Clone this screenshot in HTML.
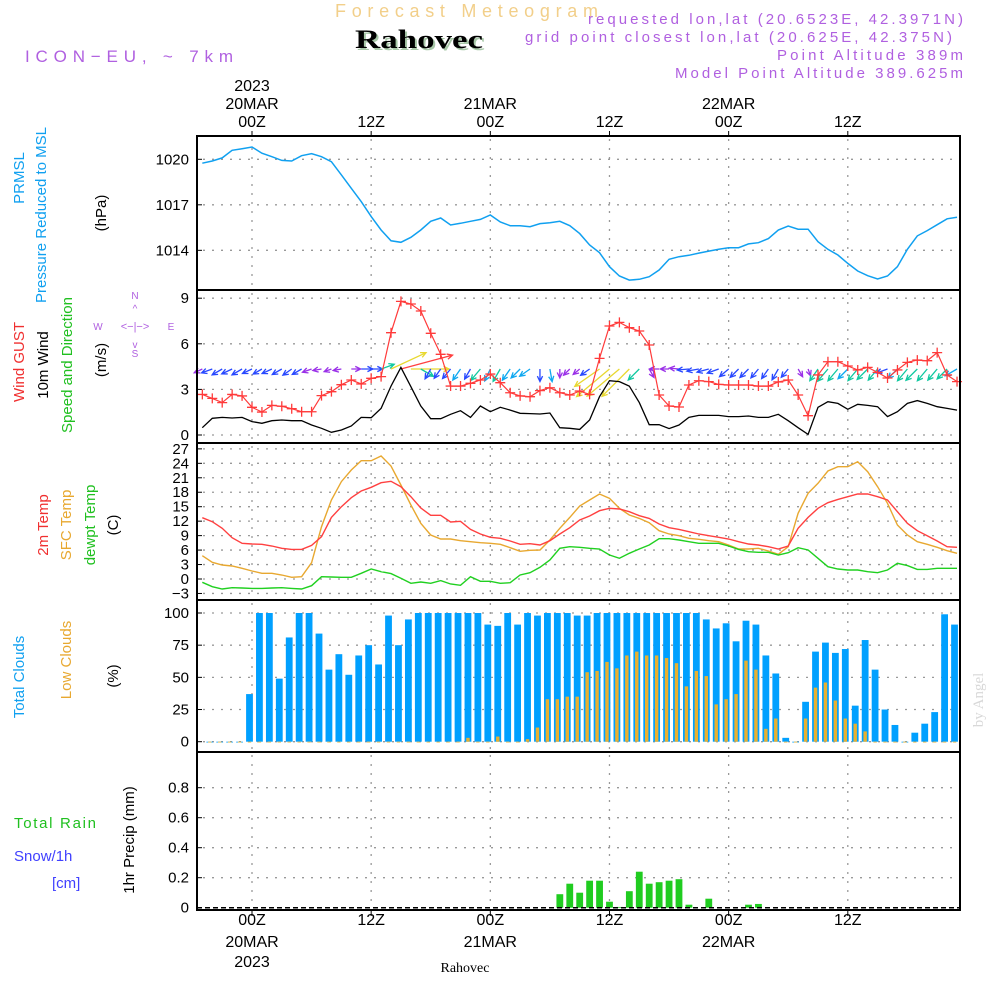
<!DOCTYPE html>
<html><head><meta charset="utf-8"><title>Meteogram Rahovec</title>
<style>
html,body{margin:0;padding:0;background:#fff;}
svg{display:block;font-family:"Liberation Sans",sans-serif;}
</style></head>
<body>
<svg id="chart" width="1000" height="1000" viewBox="0 0 1000 1000" xmlns="http://www.w3.org/2000/svg">
<rect width="1000" height="1000" fill="#fff"/>
<g id="header">
<text x="335" y="17" font-size="18" fill="#f2cf8a" textLength="263" lengthAdjust="spacing">Forecast Meteogram</text>
<text x="357" y="50" font-size="26" font-weight="bold" font-family="Liberation Serif,serif" fill="#a8c8a8" textLength="128" lengthAdjust="spacingAndGlyphs">Rahovec</text>
<text x="355" y="48" font-size="26" font-weight="bold" font-family="Liberation Serif,serif" fill="#000" textLength="128" lengthAdjust="spacingAndGlyphs">Rahovec</text>
<text x="25" y="62" font-size="17" fill="#b060e0" textLength="208" lengthAdjust="spacing">ICON−EU, ~ 7km</text>
<text x="963" y="24" font-size="15" fill="#b060e0" text-anchor="end" textLength="375" lengthAdjust="spacing">requested lon,lat (20.6523E, 42.3971N)</text>
<text x="952" y="42" font-size="15" fill="#b060e0" text-anchor="end" textLength="427" lengthAdjust="spacing">grid point closest lon,lat (20.625E, 42.375N)</text>
<text x="963" y="60" font-size="15" fill="#b060e0" text-anchor="end" textLength="186" lengthAdjust="spacing">Point Altitude 389m</text>
<text x="963" y="78" font-size="15" fill="#b060e0" text-anchor="end" textLength="288" lengthAdjust="spacing">Model Point Altitude 389.625m</text>
</g>
<g id="labels" font-size="15">
<text transform="translate(24,178) rotate(-90)" text-anchor="middle" fill="#10a0f0">PRMSL</text>
<text transform="translate(46,215) rotate(-90)" text-anchor="middle" fill="#10a0f0">Pressure Reduced to MSL</text>
<text transform="translate(106,213) rotate(-90)" text-anchor="middle" fill="#000">(hPa)</text>
<text transform="translate(24,362) rotate(-90)" text-anchor="middle" fill="#f03030">Wind GUST</text>
<text transform="translate(48,365) rotate(-90)" text-anchor="middle" fill="#000">10m Wind</text>
<text transform="translate(72,365) rotate(-90)" text-anchor="middle" fill="#20c020">Speed and Direction</text>
<text transform="translate(106,360) rotate(-90)" text-anchor="middle" fill="#000">(m/s)</text>
<g fill="#b060e0" font-size="10" text-anchor="middle">
<text x="135" y="299">N</text><text x="135" y="357">S</text><text x="98" y="330">W</text><text x="171" y="330">E</text>
<text x="135" y="330" font-size="11">&lt;−|−&gt;</text><text x="135" y="312" font-size="10">^</text><text x="135" y="348" font-size="10">v</text>
</g>
<text transform="translate(48,525) rotate(-90)" text-anchor="middle" fill="#f03030">2m Temp</text>
<text transform="translate(71,525) rotate(-90)" text-anchor="middle" fill="#e8a830">SFC Temp</text>
<text transform="translate(95,525) rotate(-90)" text-anchor="middle" fill="#20c020">dewpt Temp</text>
<text transform="translate(118,525) rotate(-90)" text-anchor="middle" fill="#000">(C)</text>
<text transform="translate(24,677) rotate(-90)" text-anchor="middle" fill="#10a0f0">Total Clouds</text>
<text transform="translate(71,660) rotate(-90)" text-anchor="middle" fill="#e8a830">Low Clouds</text>
<text transform="translate(118,676) rotate(-90)" text-anchor="middle" fill="#000">(%)</text>
<text x="14" y="828" fill="#20c020" textLength="82" lengthAdjust="spacing">Total  Rain</text>
<text x="14" y="861" fill="#4040ff">Snow/1h</text>
<text x="52" y="888" fill="#4040ff">[cm]</text>
<text transform="translate(134,840) rotate(-90)" text-anchor="middle" fill="#000">1hr Precip (mm)</text>
<text transform="translate(983,700) rotate(-90)" text-anchor="middle" fill="#d8d8d8" font-family="Liberation Serif,serif" font-size="15">by Angel</text>
<text x="465" y="972" text-anchor="middle" font-family="Liberation Serif,serif" font-size="14" fill="#000">Rahovec</text>
</g>
<g id="plot"></g>
</svg>
<script>
// ---- data (hourly, t = -5 .. 71 hours from 20MAR 00Z) ----
const pressure = [1019.74,1019.89,1020.09,1020.59,1020.70,1020.81,1020.40,1020.17,1019.93,1019.89,1020.24,1020.37,1020.17,1019.84,1018.97,1018.09,1017.21,1016.22,1015.34,1014.63,1014.53,1014.86,1015.34,1015.91,1016.13,1015.67,1015.78,1015.91,1016.04,1016.33,1015.87,1015.62,1015.62,1015.56,1015.76,1015.82,1015.91,1015.62,1015.10,1014.35,
1013.84,1012.92,1012.31,1012.04,1012.09,1012.26,1012.70,1013.41,1013.58,1013.67,1013.82,1013.95,1014.07,1014.17,1014.17,1014.42,1014.50,1014.77,1015.34,1015.60,1015.39,1015.39,1014.57,1014.07,1013.69,1013.14,1012.64,1012.33,1012.11,1012.31,1012.92,1014.07,1014.95,1015.30,1015.69,1016.08,1016.18];
const windSpeed = [0.48,1.10,1.16,1.12,1.16,0.88,0.77,0.94,0.99,0.94,0.94,0.66,0.44,0.18,0.33,0.59,1.16,1.14,1.75,3.22,4.45,3.18,1.91,1.07,1.07,1.36,1.60,1.16,1.91,1.53,1.82,1.64,1.43,1.41,1.38,1.45,0.48,0.44,0.37,0.99,
2.52,3.57,3.51,3.22,2.13,0.68,0.68,0.42,0.66,1.16,1.29,1.29,1.29,1.21,1.21,1.25,1.16,1.16,1.36,0.94,0.48,0.04,1.82,2.19,2.08,1.69,2.02,1.95,1.86,1.21,1.53,2.08,2.26,2.08,1.86,1.75,1.64];
const windGust = [2.67,2.41,2.13,2.67,2.57,1.82,1.51,1.95,1.89,1.73,1.53,1.53,2.59,2.85,3.31,3.62,3.36,3.73,3.84,6.73,8.79,8.62,8.16,6.69,5.31,3.22,3.22,3.40,3.62,4.01,3.44,2.78,2.57,2.52,2.92,3.11,2.78,2.63,2.89,2.67,
5.04,7.17,7.41,7.06,6.84,5.92,2.63,1.91,1.84,3.29,3.57,3.51,3.33,3.29,3.29,3.29,3.22,3.22,3.49,3.62,2.63,1.27,3.95,4.82,4.82,4.54,4.28,4.45,4.12,3.75,4.28,4.78,4.93,4.89,5.42,3.95,3.51];
const windDir = [205,200,210,205,210,205,210,205,210,215,210,200,190,200,190,0,0,0,20,25,15,0,330,240,235,230,235,240,230,245,240,235,225,215,270,280,270,225,220,215,215,220,220,225,225,300,180,180,175,185,190,195,200,220,225,225,230,235,240,230,300,290,235,230,230,225,230,225,230,200,225,230,225,230,230,225,210];
const temp2m = [12.72,11.89,10.51,8.57,7.40,7.26,7.19,6.85,6.36,6.15,6.15,6.98,8.78,12.79,15.0,16.87,18.26,19.02,19.98,20.26,19.15,17.08,14.73,13.21,13.21,11.83,11.97,10.3,9.34,8.65,8.44,7.88,7.19,7.33,7.05,7.95,9.34,10.65,12.24,13.07,
14.18,14.66,14.52,13.97,13.14,12.58,11.41,10.65,10.30,9.82,9.34,8.99,8.65,8.30,7.74,7.26,7.05,6.71,6.22,6.85,10.51,12.79,14.66,15.83,16.52,17.08,17.63,17.63,17.08,16.39,13.97,11.55,10.03,8.99,7.88,6.71,6.57];
const tempSfc = [4.84,3.46,2.90,2.70,2.21,1.66,1.18,1.18,0.83,0.35,0.48,3.39,10.86,16.39,20.2,22.61,24.55,24.55,25.52,23.44,19.5,15.35,11.55,9.13,8.30,8.30,7.95,7.74,7.54,7.40,7.19,6.50,5.74,5.95,6.02,8.09,10.51,12.79,15.15,16.39,
17.63,16.74,14.66,13.28,12.58,11.69,10.03,9.34,8.99,8.44,8.24,7.95,7.74,7.05,6.22,6.22,6.36,5.81,5.12,6.71,13.63,17.77,19.85,22.41,23.3,23.3,24.34,22.27,19.15,15.7,11.2,9.13,7.74,7.19,6.57,5.88,5.33];
const dewpt = [-0.69,-1.6,-2.07,-1.8,-1.87,-1.94,-1.94,-1.87,-1.8,-1.94,-2.07,-1.38,0.48,0.41,0.35,0.35,1.18,2.07,1.52,1.11,0.14,-0.90,-0.62,-0.90,-0.34,-1.04,-1.31,0.48,-0.48,-0.48,-0.9,-0.76,0.83,1.31,2.42,3.94,6.36,6.71,6.57,6.36,
6.22,4.98,4.29,5.33,6.22,7.05,8.37,8.37,8.09,7.74,7.40,7.40,7.40,6.85,6.15,5.67,5.53,5.53,4.98,5.46,6.50,6.02,4.29,2.56,2.07,1.87,1.87,1.52,1.31,1.87,3.25,2.77,2.0,2.0,2.21,2.21,2.21];
// clouds t = -4 .. 71
const totalClouds = [0,0,0,0,37,100,100,49,81,100,100,84,56,68,52,67,75,60,98,75,95,100,100,100,100,100,100,100,91,90,100,91,100,98,100,100,100,98,98,
100,100,100,100,100,100,100,100,100,100,100,95,88,92,78,94,91,67,53,3,0,31,70,77,69,72,28,79,56,25,13,0,7,14,23,99,91];
const lowClouds = [0,0,0,0,0,0,0,0,0,0,0,0,0,0,0,0,0,0,0,0,0,0,0,0,0,0,3,0,0,4,0,0,2,11,33,33,35,35,54,
55,62,57,67,70,67,67,65,61,43,55,51,29,33,37,63,56,10,18,0,0,18,42,46,32,18,14,8,0,0,0,0,0,0,0,0,0];
// precip t = -5 .. 71 (mm/h)
const precip = [0,0,0,0,0,0,0,0,0,0,0,0,0,0,0,0,0,0,0,0,0,0,0,0,0,0,0,0,0,0,0,0,0,0,0,0,
0.09,0.16,0.10,0.18,0.18,0.04,0.005,0.11,0.24,0.16,0.17,0.18,0.19,0.02,0,0.06,0,0,0,0.02,0.025,
0,0,0,0,0,0,0,0,0,0,0,0,0,0,0,0,0,0,0,0];
const pressTicks = [1020,1017,1014];
const windTicks = [9,6,3,0];
const tempTicks = [27,24,21,18,15,12,9,6,3,0,-3];
const cloudTicks = [100,75,50,25,0];
const precipTicks = [0.8,0.6,0.4,0.2,0];
const timeTicks = [0,12,24,36,48,60];
const timeLabels = ["00Z","12Z","00Z","12Z","00Z","12Z"];
const dateLabels = ["20MAR","","21MAR","","22MAR",""];

// ---- scales ----
const X = t => 252 + 9.93*t;
const Yp = p => 159.3 + (1020-p)*15.17;
const Yw = s => 435 - 15.2*s;
const Yt = c => 579 - 4.82*c;
const Yc = v => 741.7 - 1.287*v;
const Yr = v => 907.7 - 150*v;
const L = 197, R = 960;
const panels = [[136,290],[290,443],[443,600],[600,752],[752,910]];

const NS = "http://www.w3.org/2000/svg";
const plot = document.getElementById('plot');
function mk(tag, attrs, parent){ const e=document.createElementNS(NS,tag); for(const k in attrs) e.setAttribute(k,attrs[k]); (parent||plot).appendChild(e); return e; }

// grid
const grid = mk('g',{stroke:'#999','stroke-width':1.3,'stroke-dasharray':'2,7'});


timeTicks.forEach(t=>{ panels.forEach(p=>{ const l=mk('line',{x1:X(t),x2:X(t),y1:p[0]+3,y2:p[1]-2},grid);   }); });
function hgrid(ticks, f){ ticks.forEach(v=>{ const l=mk('line',{x1:L+6,x2:R-3,y1:f(v),y2:f(v)},grid);   }); }
hgrid(pressTicks,Yp); hgrid(windTicks,Yw); hgrid(tempTicks,Yt); hgrid(cloudTicks,Yc); hgrid(precipTicks.slice(0,4),Yr);

// y tick labels
function ylabels(ticks,f,fmt,name){ ticks.forEach(v=>{ const tx=mk('text',{x:189,y:f(v)+5,'text-anchor':'end','font-size':15,fill:'#000'}); tx.textContent=fmt(v).replace('-','−');
   
  const tk=mk('line',{x1:L,x2:L+5,y1:f(v),y2:f(v),stroke:'#000','stroke-width':1});   }); }
ylabels(pressTicks,Yp,v=>String(v),'pressure-tick-label');
ylabels(windTicks,Yw,v=>String(v),'wind-tick-label');
ylabels(tempTicks,Yt,v=>String(v),'temp-tick-label');
ylabels(cloudTicks,Yc,v=>String(v),'cloud-tick-label');
ylabels(precipTicks,Yr,v=>v===0?'0':v.toFixed(1),'precip-tick-label');

// time labels
timeTicks.forEach((t,i)=>{
  const a=mk('text',{x:X(t),y:127,'text-anchor':'middle','font-size':16,fill:'#000'}); a.textContent=timeLabels[i];
   
  const b=mk('text',{x:X(t),y:925,'text-anchor':'middle','font-size':16,fill:'#000'}); b.textContent=timeLabels[i];
   
  if(dateLabels[i]){
    const c=mk('text',{x:X(t),y:109,'text-anchor':'middle','font-size':16,fill:'#000'}); c.textContent=dateLabels[i];
     
    const d=mk('text',{x:X(t),y:947,'text-anchor':'middle','font-size':16,fill:'#000'}); d.textContent=dateLabels[i];
     
  }
  const k1=mk('line',{x1:X(t),x2:X(t),y1:131,y2:136,stroke:'#000'});  
  const k2=mk('line',{x1:X(t),x2:X(t),y1:910,y2:916,stroke:'#000'});  
});
const y1=mk('text',{x:X(0),y:91,'text-anchor':'middle','font-size':16,fill:'#000'}); y1.textContent='2023';
 
const y2=mk('text',{x:X(0),y:967,'text-anchor':'middle','font-size':16,fill:'#000'}); y2.textContent='2023';
 

function path(vals, t0, f){ return vals.map((v,i)=>(i?'L':'M')+X(t0+i).toFixed(1)+','+f(v).toFixed(1)).join(''); }

// pressure
const pl=mk('path',{d:path(pressure,-5,Yp),fill:'none',stroke:'#10a0f0','stroke-width':1.5});
 

// wind arrows
function windColor(s){ return s<0.75?'#9a30e8':s<1.4?'#2848ff':s<1.75?'#10a8f0':s<2.45?'#10c8a0':s<4?'#e8d830':'#ff4040'; }
windDir.forEach((d,i)=>{
  const s=windSpeed[i], len = s<2.4 ? 7+s*4 : s*12;
  const x0=X(i-5), y0=369, a=d*Math.PI/180;
  const x1=x0+len*Math.cos(a), yy=y0-len*Math.sin(a);
  const h1=a+Math.PI-0.45, h2=a+Math.PI+0.45;
  const g=mk('path',{d:`M${x0},${y0}L${x1},${yy}M${x1+6*Math.cos(h1)},${yy-6*Math.sin(h1)}L${x1},${yy}L${x1+6*Math.cos(h2)},${yy-6*Math.sin(h2)}`,stroke:windColor(s),'stroke-width':1.3,fill:'none'});
   
});
// wind speed
const ws=mk('path',{d:path(windSpeed,-5,Yw),fill:'none',stroke:'#000','stroke-width':1.3});
 
// gust
const gl=mk('path',{d:path(windGust,-5,Yw),fill:'none',stroke:'#ff3a3a','stroke-width':1.2});
 
windGust.forEach((v,i)=>{ const x=X(i-5), y=Yw(v);
  const m=mk('path',{d:`M${x-5},${y}H${x+5}M${x},${y-5}V${y+5}`,stroke:'#ff3a3a','stroke-width':1.3});
    });

// temps
[[tempSfc,'#e8a830','sfc-temp-line'],[temp2m,'#ff4040','temp-2m-line'],[dewpt,'#20d020','dewpoint-line']].forEach(([arr,c,n])=>{
  const p=mk('path',{d:path(arr,-5,Yt),fill:'none',stroke:c,'stroke-width':1.4});
    });

// clouds
totalClouds.forEach((v,i)=>{ const xc=X(i-4)-2.5;
  const b=mk('rect',{x:xc-3.4,y:Yc(v),width:6.8,height:Math.max(Yc(0)-Yc(v),0.8),fill:'#00a0ff'});
   
  const lv=lowClouds[i];
  const lb=mk('rect',{x:xc-1.7,y:Yc(lv),width:3.4,height:Math.max(Yc(0)-Yc(lv),0.8),fill:'#e8b030'});
   
});

// precip
precip.forEach((v,i)=>{ if(v<=0) return;
  const b=mk('rect',{x:X(i-5)-3.4,y:Yr(v),width:6.8,height:Yr(0)-Yr(v),fill:'#20cc20'});
    });
const zl=mk('line',{x1:L,x2:R,y1:Yr(0),y2:Yr(0),stroke:'#000','stroke-width':1.5,'stroke-dasharray':'5,3'});
 

// frames
panels.forEach(p=>{ const r=mk('rect',{x:L,y:p[0],width:R-L,height:p[1]-p[0],fill:'none',stroke:'#000','stroke-width':2});
    });
</script>
</body></html>
